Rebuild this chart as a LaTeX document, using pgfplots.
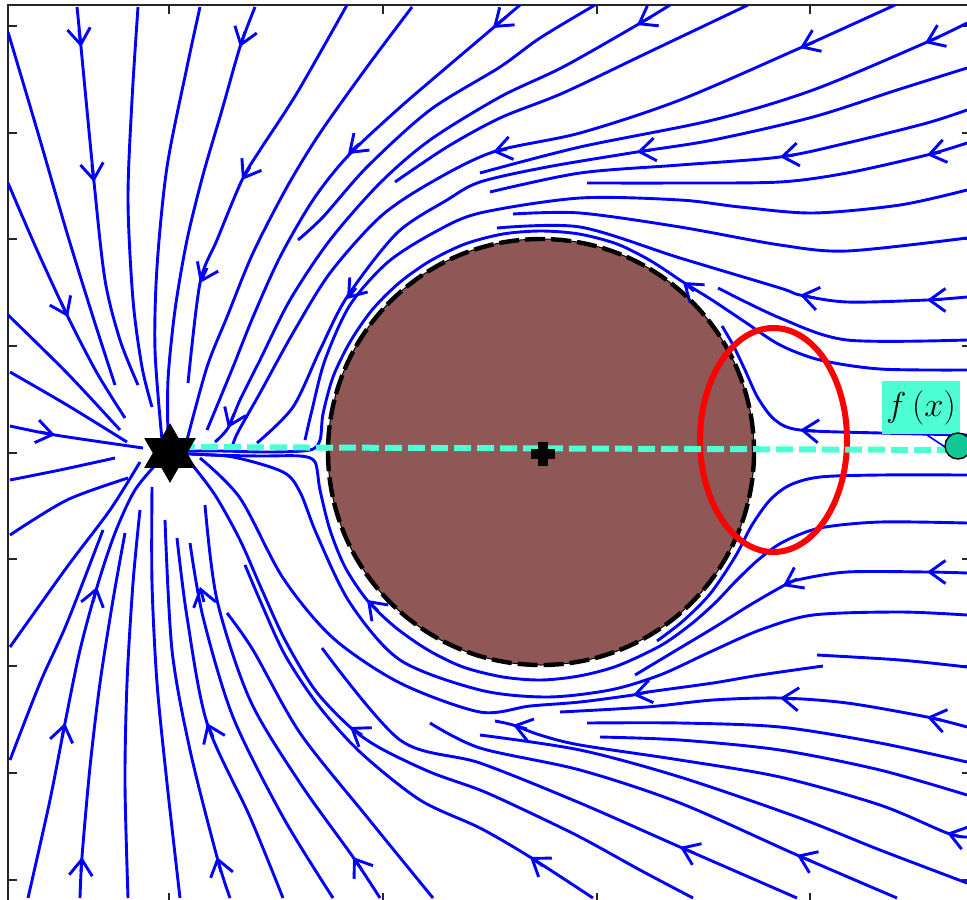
\documentclass[border=0pt]{standalone}
\usepackage{pgfplots}
\pgfplotsset{compat=1.18}
\usetikzlibrary{arrows.meta}

\definecolor{flow}{RGB}{0,0,255}
\definecolor{disk}{RGB}{143,87,86}
\definecolor{aqua}{RGB}{77,255,210}
\definecolor{dotgreen}{RGB}{18,200,150}
\definecolor{frame}{RGB}{38,38,38}

% six-pointed star used for the sink
\pgfdeclareplotmark{hexagram}{%
  \pgfpathmoveto{\pgfqpointpolar{90}{\pgfplotmarksize}}%
  \pgfpathlineto{\pgfqpointpolar{210}{\pgfplotmarksize}}%
  \pgfpathlineto{\pgfqpointpolar{330}{\pgfplotmarksize}}%
  \pgfpathclose
  \pgfpathmoveto{\pgfqpointpolar{270}{\pgfplotmarksize}}%
  \pgfpathlineto{\pgfqpointpolar{30}{\pgfplotmarksize}}%
  \pgfpathlineto{\pgfqpointpolar{150}{\pgfplotmarksize}}%
  \pgfpathclose
  \pgfusepathqfillstroke}

\pgfplotsset{
  stream/.style={flow, line width=1.45pt, smooth, no markers},
  arr/.style={flow, line width=1.45pt, no markers,
    -{Straight Barb[length=8pt,width=11.5pt]}},
}
% arrow head on a streamline: from a point upstream to the tip
\newcommand\flowarrow[4]{\addplot[arr] coordinates {(#1,#2) (#3,#4)};}

\begin{document}
\begin{tikzpicture}
\begin{axis}[
  scale only axis, width=481.5pt, height=448.5pt,
  xmin=8, xmax=971, ymin=5, ymax=902, y dir=reverse,
  xtick={168.5,383,597,810},
  ytick={26,133,239,346,453,559,666,773,880},
  xticklabels={}, yticklabels={},
  tick align=inside, major tick length=4.5pt,
  axis line style={frame, line width=1pt},
  tick style={frame, line width=1pt},
  clip=true,
]
\coordinate (bbA) at (axis cs:0,899);
\coordinate (bbB) at (axis cs:967,0);

% obstacle
\fill[disk] (axis cs:541,452) circle[radius=213];

% ---- streamlines, upper left (into the sink) ----
\addplot[stream] coordinates {(8,32) (38,133) (67,233) (93,317) (115,385)};
\addplot[stream] coordinates {(8,183) (37,250) (68,317) (97,373) (125,418)};
\addplot[stream] coordinates {(8,315) (67,373) (120,430)};
\addplot[stream] coordinates {(10,372) (67,405) (127,442)};
\addplot[stream] coordinates {(10,426) (55,435) (143,448)};
\addplot[stream] coordinates {(77,7) (81,47) (94,182) (105,280) (120,340) (138,385)};
\addplot[stream] coordinates {(138,7) (132,100) (128,200) (133,300) (142,367) (152,407)};
\addplot[stream] coordinates {(200,7) (187,67) (167,167) (157,267) (155,350) (162,440)};
\addplot[stream] coordinates {(255,7) (240,47) (222,110) (203,175) (187,240) (175,310) (168,380) (168,440)};
\addplot[stream] coordinates {(347,5) (297,93) (260,150) (242,180) (217,240) (200,283) (188,383)};
\addplot[stream] coordinates {(412,7) (367,67) (320,133) (287,187) (253,253) (227,317) (207,367) (187,440)};
\addplot[stream] coordinates {(520,5) (493,28) (447,67) (397,110) (347,157) (313,200) (280,257) (253,317) (233,367) (207,430)};
\addplot[stream] coordinates {(595,5) (540,38) (500,67) (430,110) (367,167) (323,217) (298,240)};
\addplot[stream] coordinates {(670,5) (637,25) (563,67) (500,97) (430,140) (380,183) (330,240) (290,300) (260,360) (240,400) (228,428) (215,442)};
\addplot[stream] coordinates {(748,5) (647,53) (563,93) (500,118) (447,147) (395,182)};
\addplot[stream] coordinates {(895,5) (800,48) (680,100) (580,133) (493,152) (430,183) (380,217) (330,273) (293,333) (260,393) (238,432) (232,447)};
\addplot[stream] coordinates {(967,23) (925,43) (813,90) (713,120) (580,147) (480,173)};
\addplot[stream] coordinates {(967,68) (897,90) (813,117) (713,140) (637,152) (547,167) (480,182) (447,200) (397,233) (347,297) (320,350) (293,407) (257,443)};
\addplot[stream] coordinates {(967,110) (927,123) (847,143) (780,157) (680,165) (580,173) (490,192)};
\addplot[stream] coordinates {(967,143) (927,155) (847,173) (780,182) (680,183) (587,183)};
\addplot[stream] coordinates {(967,190) (900,205) (813,213) (740,207) (680,200) (580,198) (480,213) (435,232) (388,262) (350,305) (325,360) (312,410) (305,440)};
\addplot[stream] coordinates {(513,214) (580,213) (680,227) (780,245) (847,251) (967,238)};
\addplot[stream] coordinates {(497,228) (580,227) (680,258) (780,288) (800,295) (847,302) (927,300) (967,297)};
\addplot[stream] coordinates {(718,288) (780,318) (847,340) (967,340)};
% line wrapping over the top of the obstacle
\addplot[stream] coordinates {(967,370) (880,369) (820,360) (780,345) (745,322) (712,300) (683,282) (651,261) (617,244) (579,234) (541,231) (503,234) (465,244) (430,261) (399,283) (372,310) (350,342) (333,377) (323,414) (320,440) (310,450) (270,452) (220,451) (185,451)};
\addplot[stream] coordinates {(967,435) (880,433) (800,430) (775,420) (758,398) (745,370) (733,345) (722,326)};

% ---- streamlines, lower right ----
\addplot[stream] coordinates {(967,475) (880,475) (820,477) (790,485) (770,500) (752,525) (735,557) (710,594) (683,621) (657,641)};
\addplot[stream] coordinates {(967,523) (880,522) (820,528) (783,542) (758,560) (735,582) (715,603) (690,625) (660,646) (617,666) (579,676) (541,680) (503,677) (463,667) (428,650) (395,627) (367,600) (345,567) (330,530) (320,490) (315,462) (300,456) (260,456) (210,455) (178,453)};
\addplot[stream] coordinates {(967,573) (927,572) (847,572) (797,580) (783,586) (750,605) (715,627) (680,648) (635,675)};
\addplot[stream] coordinates {(967,615) (900,612) (813,615) (760,630) (710,652) (660,675) (610,690) (547,697) (480,690) (400,660) (350,603) (317,535) (300,492) (283,472) (233,457) (190,454)};
\addplot[stream] coordinates {(817,655) (900,660) (967,667)};
\addplot[stream] coordinates {(823,666) (760,675) (713,683) (648,692) (633,695) (580,702) (530,706) (480,712) (400,683) (333,638) (283,578) (240,498) (200,458)};
\addplot[stream] coordinates {(967,727) (927,717) (847,703) (780,698) (713,700) (647,707) (560,712)};
\addplot[stream] coordinates {(967,762) (880,743) (780,727) (680,723) (587,723)};
\addplot[stream] coordinates {(967,795) (880,770) (780,750) (680,740) (600,737)};
\addplot[stream] coordinates {(967,837) (947,833) (880,805) (780,777) (680,760) (580,745) (540,735) (513,725) (495,721)};
\addplot[stream] coordinates {(967,883) (880,850) (797,817) (680,777) (580,750) (480,735)};
\addplot[stream] coordinates {(897,898) (797,855) (680,803) (580,770) (480,748) (430,723)};
\addplot[stream] coordinates {(797,898) (680,847) (580,803) (480,763) (400,740) (322,648)};
\addplot[stream] coordinates {(693,898) (640,870) (580,837) (520,808) (480,790) (430,772) (380,748) (350,727) (315,690) (285,640) (262,590) (240,540) (215,495) (190,462)};
\addplot[stream] coordinates {(593,898) (530,857) (480,828) (420,800) (360,752) (318,705) (285,655) (262,605) (245,565)};

% ---- streamlines, lower left (into the sink) ----
\addplot[stream] coordinates {(433,898) (367,817) (300,733) (253,650) (227,613)};
\addplot[stream] coordinates {(380,898) (353,857) (300,783) (250,700) (217,600) (205,505)};
\addplot[stream] coordinates {(333,898) (283,817) (233,717) (203,617) (190,543)};
\addplot[stream] coordinates {(283,898) (250,817) (207,723) (187,617) (177,538)};
\addplot[stream] coordinates {(230,898) (217,857) (190,750) (172,650) (165,520)};
\addplot[stream] coordinates {(180,898) (167,783) (157,683) (152,583) (152,487)};
\addplot[stream] coordinates {(128,898) (125,783) (127,683) (133,583) (140,510)};
\addplot[stream] coordinates {(80,898) (82,857) (90,767) (100,683) (113,600) (125,533)};
\addplot[stream] coordinates {(28,898) (50,800) (65,723) (80,650) (97,587) (115,533) (135,490) (160,460)};
\addplot[stream] coordinates {(10,760) (40,683) (67,623) (103,530)};
\addplot[stream] coordinates {(10,647) (67,567) (110,510) (140,462)};
\addplot[stream] coordinates {(10,535) (67,500) (128,478)};
\addplot[stream] coordinates {(10,480) (60,470) (115,458)};

% ---- arrow heads ----
\flowarrow{79}{30}{81}{47}
\flowarrow{92}{165}{94}{182}
\flowarrow{61}{302}{68}{317}
\flowarrow{40}{432}{55}{435}
\flowarrow{245}{32}{240}{47}
\flowarrow{250}{167}{242}{180}
\flowarrow{207}{268}{200}{283}
\flowarrow{359}{144}{348}{154}
\flowarrow{356}{288}{347}{299}
\flowarrow{234}{414}{228}{428}
\flowarrow{506}{17}{493}{28}
\flowarrow{651}{17}{637}{25}
\flowarrow{814}{42}{800}{48}
\flowarrow{939}{37}{925}{43}
\flowarrow{507}{149}{493}{152}
\flowarrow{651}{150}{637}{152}
\flowarrow{794}{155}{780}{157}
\flowarrow{941}{152}{927}{155}
\flowarrow{694}{291}{683}{282}
\flowarrow{815}{298}{800}{295}
\flowarrow{942}{300}{927}{300}
\flowarrow{815}{431}{800}{430}
\flowarrow{942}{572}{927}{572}
\flowarrow{797}{579}{783}{586}
\flowarrow{648}{692}{633}{695}
\flowarrow{795}{699}{780}{698}
\flowarrow{941}{720}{927}{717}
\flowarrow{527}{729}{513}{725}
\flowarrow{961}{837}{947}{833}
\flowarrow{811}{861}{797}{855}
\flowarrow{694}{853}{680}{847}
\flowarrow{543}{866}{530}{857}
\flowarrow{62}{738}{65}{723}
\flowarrow{93}{602}{97}{587}
\flowarrow{81}{872}{82}{857}
\flowarrow{221}{872}{217}{857}
\flowarrow{213}{737}{207}{723}
\flowarrow{204}{602}{200}{587}
\flowarrow{362}{870}{353}{857}
\flowarrow{362}{735}{350}{727}
\flowarrow{378}{611}{367}{600}

% obstacle outline
\draw[black, line width=0.5pt] (axis cs:541,452) circle[radius=213];
\draw[black, line width=2.2pt, dash pattern=on 10pt off 3pt] (axis cs:541,452) circle[radius=213];

% region of interest
\draw[red, line width=3pt] (axis cs:773.5,440) ellipse[x radius=73.5, y radius=112];

% axis of symmetry through the sink
\addplot[aqua, line width=3pt, dash pattern=on 8.5pt off 3pt, no markers]
  coordinates {(178,447) (955,450)};

% label leader and end point
\addplot[flow, line width=0.8pt, no markers] coordinates {(927,435) (945,447)};
\addplot[only marks, mark=*, mark size=6.5pt,
  mark options={fill=dotgreen, draw=black, line width=0.7pt}]
  coordinates {(958,446)};
\node[fill=aqua, inner xsep=1.5pt, inner ysep=0pt, minimum width=39pt, minimum height=26.5pt,
  font=\fontsize{19}{23}\selectfont]
  at (axis cs:921,407.5) {$f\left(x\right)$};

% sink and obstacle centre
\addplot[only marks, mark=hexagram, mark size=14.5pt,
  mark options={fill=black, draw=black, line width=0.4pt}]
  coordinates {(170,453)};
\addplot[only marks, mark=+, mark size=6pt,
  mark options={draw=black, line width=5pt}]
  coordinates {(543,454)};
\end{axis}
\pgfresetboundingbox
\path[use as bounding box] (bbA) rectangle (bbB);
\end{tikzpicture}
\end{document}
